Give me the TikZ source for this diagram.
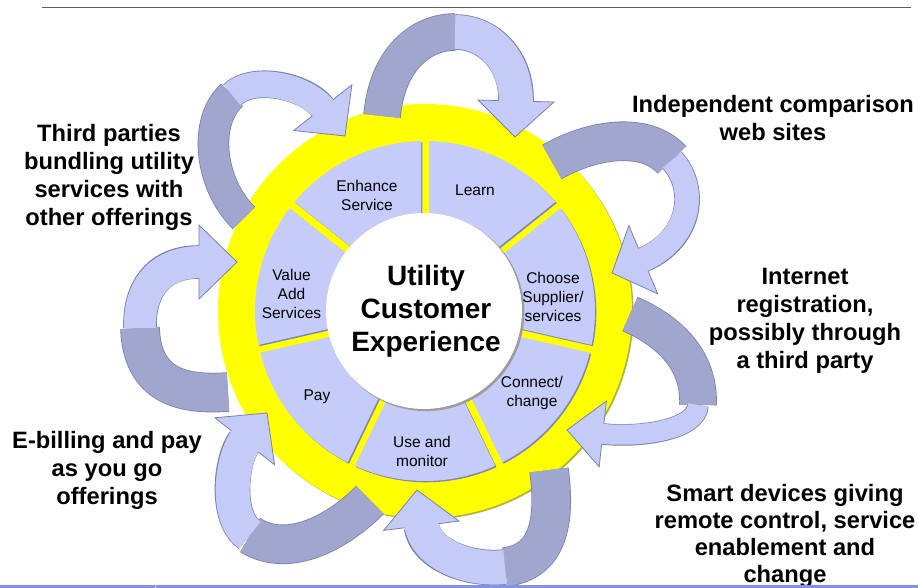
\documentclass[tikz,border=0pt]{standalone}
\usepackage{fontspec}
\setmainfont{Liberation Sans}
\usetikzlibrary{calc}

\definecolor{ringyellow}{HTML}{FFFF00}
\definecolor{ringshade}{HTML}{B4B43C}
\definecolor{segfill}{HTML}{C6CCF9}
\definecolor{segshade}{HTML}{7F86B6}
\definecolor{ribfront}{HTML}{C5CBF7}
\definecolor{ribback}{HTML}{A0A6CD}
\definecolor{ribedge}{HTML}{7A80AE}
\definecolor{hubshade}{HTML}{9C9C9C}
\definecolor{rulegray}{HTML}{5E5E5E}
\definecolor{bandblue}{HTML}{8292E6}

\tikzset{
  seglabel/.style={font=\fontsize{15.5}{19}\selectfont, align=center, inner sep=0pt},
  sidelabel/.style={font=\bfseries\fontsize{23.7}{28}\selectfont, align=center, inner sep=0pt},
  hublabel/.style={font=\bfseries\fontsize{28}{33}\selectfont, align=center, inner sep=0pt},
  ribout/.style={draw=ribedge, line cap=butt},
  ribdark/.style={draw=ribback, line cap=butt},
  riblight/.style={draw=ribfront, line cap=butt},
  ribhead/.style={fill=ribfront, draw=ribedge, line width=0.8pt, line join=miter},
}

% curved ribbon arrow: #1 prefix of its named points, #2 back width,
% #3 front width, #4 head length, #5 half head width
\newcommand\ribbon[5]{%
  \pgfmathsetmacro\ribwa{#2+1.6}%
  \pgfmathsetmacro\ribwb{#3+1.6}%
  \pgfmathsetmacro\ribsh{#4-3}%
  \draw[ribout, line width=\ribwa pt] (#1T) .. controls (#1A) and (#1B) .. (#1M);
  \draw[ribout, line width=\ribwb pt, shorten >=#4pt] (#1M) .. controls (#1C) and (#1D) .. (#1P);
  \coordinate (#1H) at ($(#1P)!#4pt!(#1D)$);
  \filldraw[ribhead] (#1P) -- ($(#1H)!#5pt!90:(#1P)$) -- ($(#1H)!#5pt!-90:(#1P)$) -- cycle;
  \draw[ribdark, line width=#2pt] (#1T) .. controls (#1A) and (#1B) .. (#1M);
  \draw[riblight, line width=#3pt, shorten >=\ribsh pt] (#1M) .. controls (#1C) and (#1D) .. (#1P);
}

\newcommand\ribpts[8]{%
  \coordinate (#1T) at #2; \coordinate (#1A) at #3; \coordinate (#1B) at #4;
  \coordinate (#1M) at #5; \coordinate (#1C) at #6; \coordinate (#1D) at #7;
  \coordinate (#1P) at #8;
}

\begin{document}
\begin{tikzpicture}[x=1pt, y=-1pt]
\useasboundingbox (0,0) rectangle (918,588);

% header rule
\draw[rulegray, line width=1.6pt] (42,7.5) -- (911,7.5);

% yellow ring
\coordinate (hub) at (425,311);
\coordinate (hubsh) at (426.3,312.3);
\fill[ringshade] (426.5,312.5) circle[radius=207pt];
\fill[ringyellow] (hub) circle[radius=207pt];

% ribbon arrows around the ring
\ribpts{a1}{(382,116)}{(387,60)}{(420,32)}{(455,32)}{(490,32)}{(517,62)}{(515,137)}
\ribpts{a2}{(552,162)}{(590,140)}{(645,130)}{(672,160)}{(699,190)}{(690,240)}{(612,273)}
\ribpts{a3}{(630,314)}{(662,328)}{(700,355)}{(698,405)}{(697,430)}{(640,438)}{(567,430)}
\ribpts{a4}{(549,470)}{(556,522)}{(548,562)}{(505,567)}{(470,571)}{(425,555)}{(417,490)}
\ribpts{a5}{(370,500)}{(340,530)}{(290,560)}{(250,535)}{(225,519)}{(230,460)}{(267,413)}
\ribpts{a6}{(228,392)}{(185,395)}{(142,388)}{(140,328)}{(139,293)}{(155,262)}{(237,262)}
\ribpts{a7}{(244,218)}{(210,185)}{(202,122)}{(232,95)}{(252,75)}{(305,85)}{(345,136)}

\ribbon{a1}{36}{34}{36}{38}
\ribbon{a2}{38}{24}{34}{37}
\ribbon{a3}{36}{20}{36}{33}
\ribbon{a4}{38}{34}{36}{38}
\ribbon{a5}{38}{34}{36}{38}
\ribbon{a6}{38}{32}{38}{37}
\ribbon{a7}{30}{26}{36}{37}

% seven segments separated by yellow gaps
\foreach \k in {0,...,6}{
  \pgfmathsetmacro\ta{90-\k*360/7-1.35}
  \pgfmathsetmacro\tb{90-(\k+1)*360/7+1.35}
  \pgfmathsetmacro\tc{90-(\k+1)*360/7+2.55}
  \pgfmathsetmacro\td{90-\k*360/7-2.55}
  \fill[segshade] ($(hubsh)+(\ta:170pt)$) arc[start angle=\ta, end angle=\tb, radius=170pt]
     -- ($(hubsh)+(\tc:90pt)$) arc[start angle=\tc, end angle=\td, radius=90pt] -- cycle;
  \fill[segfill] ($(hub)+(\ta:170pt)$) arc[start angle=\ta, end angle=\tb, radius=170pt]
     -- ($(hub)+(\tc:90pt)$) arc[start angle=\tc, end angle=\td, radius=90pt] -- cycle;
}

% central disc
\fill[hubshade] (425.8,312.6) circle[radius=98.5pt];
\fill[white] (424,311) circle[radius=98pt];

% segment labels
\node[seglabel, anchor=north] (enh) at (367,179.7) {Enhance\\Service};
\node[seglabel, anchor=base] (lrn) at (475,196) {Learn};
\node[seglabel, anchor=north] (cho) at (553,271.7) {Choose\\Supplier/\\services};
\node[seglabel, anchor=north] (con) at (532,375.7) {Connect/\\change};
\node[seglabel, anchor=north] (use) at (422,435.7) {Use and\\monitor};
\node[seglabel, anchor=base] (pay) at (317,400) {Pay};
\node[seglabel, anchor=north] (val) at (291.5,268.7) {Value\\Add\\Services};

\node[hublabel, anchor=north] (hubtxt) at (426,264.6) {Utility\\Customer\\Experience};

% surrounding labels
\node[sidelabel, anchor=north] (ind) at (773,94.7) {Independent comparison\\web sites};
\node[sidelabel, anchor=north] (inet) at (805,267.7) {Internet\\registration,\\possibly through\\a third party};
\node[sidelabel, anchor=north, font=\bfseries\fontsize{23.7}{27}\selectfont] (smart) at (785,483.7) {Smart devices giving\\remote control, service\\enablement and\\change};
\node[sidelabel, anchor=north] (third) at (109,123.7) {Third parties\\bundling utility\\services with\\other offerings};
\node[sidelabel, anchor=north] (ebill) at (107,430.7) {E-billing and pay\\as you go\\offerings};

% footer band
\fill[bandblue] (0,584.5) rectangle (918,588);
\draw[white!60!bandblue, line width=0.8pt] (155,584.5) -- (155,588);
\end{tikzpicture}
\end{document}
